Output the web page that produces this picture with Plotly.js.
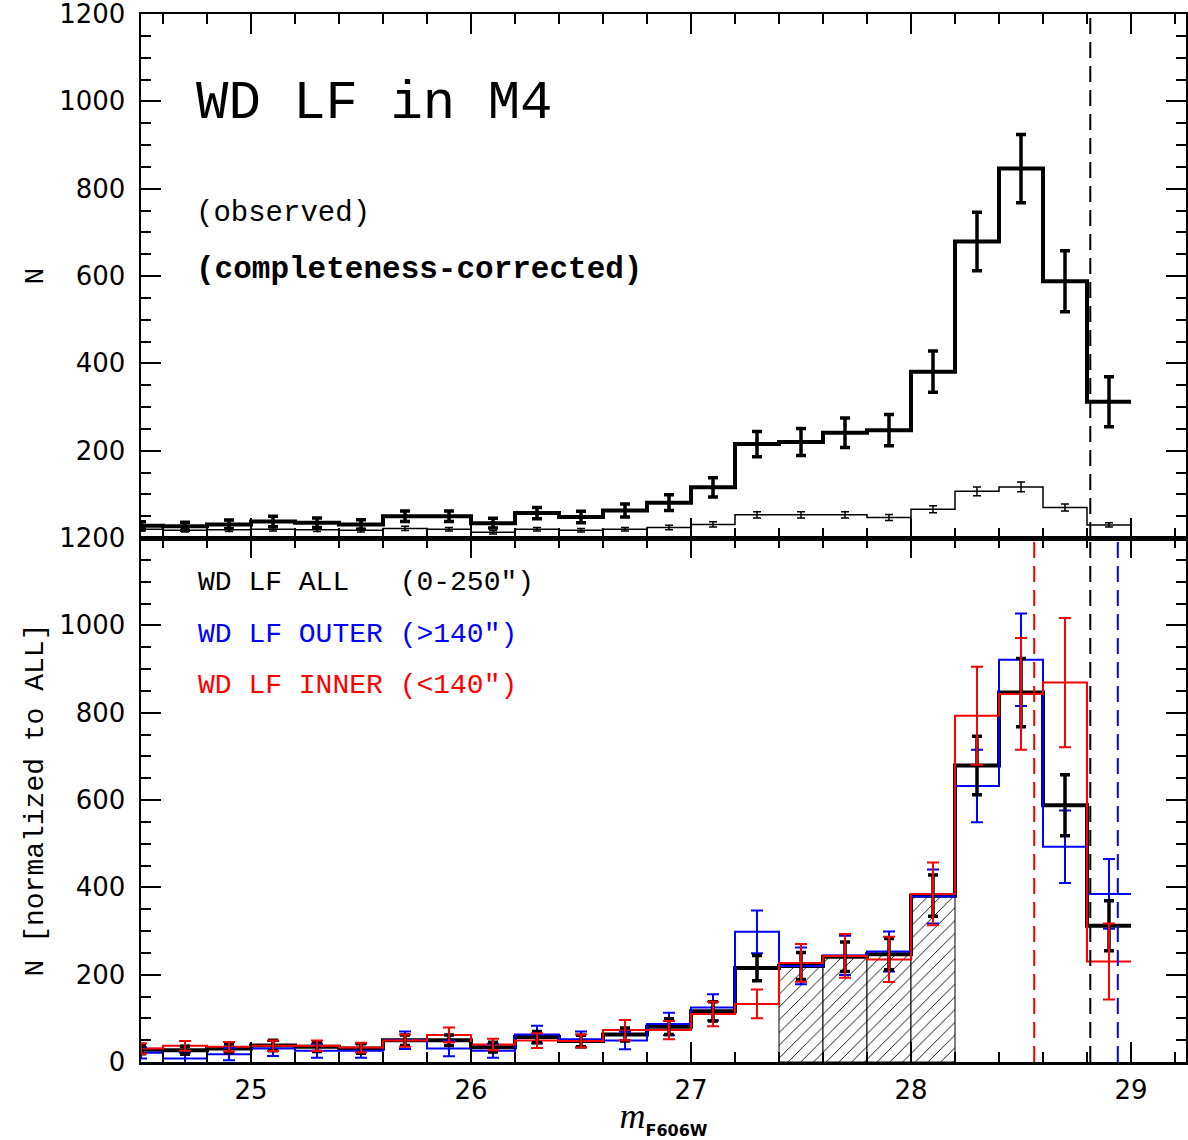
<!DOCTYPE html>
<html><head><meta charset="utf-8">
<script src="https://cdn.plot.ly/plotly-3.0.1.min.js"></script>
<style>html,body{margin:0;padding:0;background:#fff}#chart{width:1188px;height:1140px}</style>
</head><body><div id="chart"></div>
<script>
// ---- data ----
const binCenters = [24.5,24.7,24.9,25.1,25.3,25.5,25.7,25.9,26.1,26.3,26.5,26.7,26.9,27.1,27.3,27.5,27.7,27.9,28.1,28.3,28.5,28.7,28.9];
const binWidth = 0.2;
const observed    = [20,18,19,20,19,18,22,20,13,20,18,20,24,31,53,53,53,47,66,107,117,70,30];
const observedErr = [4,4,4,4,4,4,5,4,4,4,4,4,5,6,7,7,7,7,8,10,11,8,5];
const corrected    = [28,27,31,38,35,31,50,50,34,57,48,63,81,116,215,220,241,247,381,679,846,588,312];
const correctedErr = [9,9,10,12,11,11,12,12,11,13,13,15,18,22,29,31,34,36,47,67,78,70,57];
const outer    = [21,8,18,31,26,26,50,31,26,63,52,49,87,125,298,220,244,253,379,632,921,493,385];
const outerErr = [13,13,14,17,16,16,20,18,16,20,18,20,26,30,49,42,45,46,62,83,106,83,80];
const inner    = [31,37,35,37,37,33,49,62,40,49,48,73,73,110,133,227,243,235,385,793,843,869,230];
const innerErr = [12,11,11,12,12,11,14,17,13,17,15,23,21,28,33,43,50,52,72,112,128,148,87];
const hatchedBins = [27.5,27.7,27.9,28.1];
const limitAll = 28.815, limitInner = 28.56, limitOuter = 28.94;
const xTickVals = [25,26,27,28,29];
const yTickValsTop = [200,400,600,800,1000,1200];
const yTickValsBottom = [0,200,400,600,800,1000,1200];
const yRange = [0,1200];
const xRange = [24.5,29.25];

// ---- helpers ----
function stepX(c){ const h = binWidth/2; return c.map(v => v - h).concat([c[c.length-1] + h]); }
function stepY(v){ return v.concat([v[v.length-1]]); }
const sx = stepX(binCenters);

function stepTrace(vals, color, width, xa, ya){
  return {type:'scatter', mode:'lines', x:sx, y:stepY(vals), xaxis:xa, yaxis:ya,
    line:{color:color, width:width, shape:'hv'}, hoverinfo:'skip'};
}
function errTrace(vals, errs, color, thick, w, xa, ya){
  return {type:'scatter', mode:'markers', x:binCenters, y:vals, xaxis:xa, yaxis:ya,
    marker:{size:2, color:'rgba(0,0,0,0)'},
    error_y:{type:'data', symmetric:true, array:errs, color:color, thickness:thick, width:w},
    hoverinfo:'skip'};
}
function vline(v, color, xa, ya){
  return {type:'scatter', mode:'lines', x:[v,v], y:yRange, xaxis:xa, yaxis:ya,
    line:{color:color, width:2, dash:'16px,8px'}, hoverinfo:'skip'};
}

const hatchHeights = hatchedBins.map(b => corrected[binCenters.indexOf(b)]);

const traces = [
  // bottom panel
  {type:'bar', x:hatchedBins, y:hatchHeights, width:binWidth, xaxis:'x', yaxis:'y',
   marker:{color:'white', line:{color:'black', width:1},
           pattern:{shape:'/', fgcolor:'black', bgcolor:'white', size:9, solidity:0.1}},
   hoverinfo:'skip'},
  stepTrace(corrected, 'black', 4, 'x', 'y'),
  stepTrace(outer, '#0000ff', 2, 'x', 'y'),
  stepTrace(inner, '#ff0000', 2, 'x', 'y'),
  errTrace(outer, outerErr, '#0000ff', 2, 6, 'x', 'y'),
  errTrace(corrected, correctedErr, 'black', 3.5, 5, 'x', 'y'),
  errTrace(inner, innerErr, '#ff0000', 2, 6, 'x', 'y'),
  vline(limitInner, '#ff0000', 'x', 'y'),
  vline(limitAll, 'black', 'x', 'y'),
  vline(limitOuter, '#0000ff', 'x', 'y'),
  // top panel
  stepTrace(observed, 'black', 1.5, 'x2', 'y2'),
  errTrace(observed, observedErr, 'black', 1.5, 4, 'x2', 'y2'),
  stepTrace(corrected, 'black', 4, 'x2', 'y2'),
  errTrace(corrected, correctedErr, 'black', 3.5, 5, 'x2', 'y2'),
  vline(limitAll, 'black', 'x2', 'y2')
];

const tickFont = {family:'DejaVu Sans, sans-serif', size:26, color:'black'};
const monoFont = 'Liberation Mono, DejaVu Sans Mono, monospace';

const xCommon = {
  range:xRange, showgrid:false, zeroline:false, showline:true, linecolor:'black', linewidth:2.5,
  mirror:'allticks', ticks:'inside', ticklen:20, tickwidth:2, tickcolor:'black',
  tickmode:'array', tickvals:xTickVals, ticklabeloverflow:'allow',
  minor:{ticks:'inside', dtick:0.2, tick0:25, ticklen:10, tickwidth:2, tickcolor:'black', showgrid:false},
  tickfont:tickFont
};
const yCommon = {
  range:yRange, showgrid:false, zeroline:false, showline:true, linecolor:'black', linewidth:2.5,
  mirror:'allticks', ticks:'inside', ticklen:20, tickwidth:2, tickcolor:'black', ticklabeloverflow:'allow',
  minor:{ticks:'inside', dtick:50, tick0:0, ticklen:10, tickwidth:2, tickcolor:'black', showgrid:false},
  tickfont:tickFont, ticklabelstandoff:8
};

const layout = {
  width:1188, height:1140,
  margin:{l:141, r:2, t:14, b:78},
  paper_bgcolor:'white', plot_bgcolor:'white',
  showlegend:false, hovermode:false,
  xaxis: Object.assign({}, xCommon, {domain:[0,1], anchor:'y', ticklabelstandoff:3,
    title:{text:'<i>m</i><sub><span style="font-family:DejaVu Sans;font-weight:bold;font-size:16px">F606W</span></sub>',
           font:{family:'Liberation Serif, serif', size:36, color:'black'}, standoff:2}}),
  yaxis: Object.assign({}, yCommon, {domain:[0,0.5], anchor:'x', tickmode:'array', tickvals:yTickValsBottom,
    title:{text:'N [normalized to ALL]', font:{family:monoFont, size:28, color:'black'}, standoff:8}}),
  xaxis2: Object.assign({}, xCommon, {domain:[0,1], anchor:'y2', matches:'x', showticklabels:false}),
  yaxis2: Object.assign({}, yCommon, {domain:[0.5,1], anchor:'x2', tickmode:'array', tickvals:yTickValsTop,
    title:{text:'N', font:{family:monoFont, size:28, color:'black'}, standoff:8}}),
  annotations:[
    {xref:'x2', yref:'y2', x:24.74, y:995, xanchor:'left', yanchor:'middle', showarrow:false,
     text:'WD LF in M4', font:{family:monoFont, size:54, color:'black'}},
    {xref:'x2', yref:'y2', x:24.74, y:744, xanchor:'left', yanchor:'middle', showarrow:false,
     text:'(observed)', font:{family:monoFont, size:29, color:'black'}},
    {xref:'x2', yref:'y2', x:24.74, y:614, xanchor:'left', yanchor:'middle', showarrow:false,
     text:'<b>(completeness-corrected)</b>', font:{family:monoFont, size:31, color:'black'}},
    {xref:'x', yref:'y', x:24.75, y:1099, xanchor:'left', yanchor:'middle', showarrow:false,
     text:'WD LF ALL   (0-250″)', font:{family:monoFont, size:28, color:'black'}},
    {xref:'x', yref:'y', x:24.75, y:980, xanchor:'left', yanchor:'middle', showarrow:false,
     text:'WD LF OUTER (>140″)', font:{family:monoFont, size:28, color:'#0000ff'}},
    {xref:'x', yref:'y', x:24.75, y:862, xanchor:'left', yanchor:'middle', showarrow:false,
     text:'WD LF INNER (<140″)', font:{family:monoFont, size:28, color:'#ff0000'}}
  ]
};

Plotly.newPlot('chart', traces, layout, {staticPlot:true, displayModeBar:false});
</script>
</body></html>
